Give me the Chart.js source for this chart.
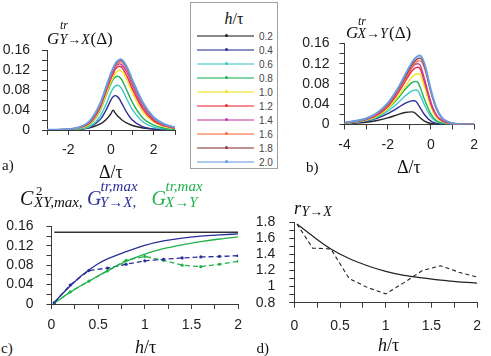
<!DOCTYPE html>
<html>
<head>
<meta charset="utf-8">
<script src="https://cdn.jsdelivr.net/npm/chart.js@4.4.0/dist/chart.umd.min.js"></script>
<style>
  body { margin: 0; background: #fff; width: 491px; height: 356px; overflow: hidden; position: relative; }
  canvas { position: absolute; }
  .lb { position: absolute; line-height: 1; white-space: nowrap; color: #111; }
  #legend { position: absolute; left: 190px; top: 2px; width: 86px; height: 165px; border: 1px solid #a0a0a0; }
</style>
</head>
<body>
<canvas id="chA" width="182" height="135" style="left:0px;top:30px"></canvas>
<canvas id="chB" width="185" height="135" style="left:300px;top:25px"></canvas>
<canvas id="chC" width="250" height="135" style="left:0px;top:205px"></canvas>
<canvas id="chD" width="241" height="140" style="left:250px;top:200px"></canvas>
<div id="legend"></div>
<script>
// h/tau levels and their colours
const hLevels = ['0.2', '0.4', '0.6', '0.8', '1.0', '1.2', '1.4', '1.6', '1.8', '2.0']
const colors = ['#262626', '#2e3192', '#3fc6c6', '#21b35a', '#f3e61c', '#ef2b3b', '#c23ea6', '#fa6b3e', '#8a3b3b', '#6b9de0']

// panel a) G^tr Y->X (delta)
const dA = [-3, -2, -1.5, -1, -0.5, -0.25, 0, 0.1, 0.2, 0.3, 0.4, 0.45, 0.5, 0.75, 1, 1.5, 2, 2.5, 3]
const gYX = [
	[0.0001, 0.0006, 0.0017, 0.0045, 0.0122, 0.020, 0.033, 0.040, 0.034, 0.0288, 0.0244, 0.0225, 0.0207, 0.0137, 0.0091, 0.004, 0.0017, 0.0008, 0.0003],
	[0, 0.0004, 0.0016, 0.0058, 0.0214, 0.0386, 0.0606, 0.0667, 0.069, 0.0671, 0.0619, 0.058, 0.0542, 0.0345, 0.0199, 0.0061, 0.0018, 0.0006, 0.0002],
	[0, 0.0005, 0.0016, 0.0068, 0.028, 0.050, 0.0756, 0.0837, 0.0886, 0.090, 0.0882, 0.086, 0.0832, 0.0612, 0.0414, 0.0162, 0.0059, 0.0022, 0.0008],
	[0.0001, 0.0009, 0.003, 0.0108, 0.040, 0.067, 0.093, 0.102, 0.1064, 0.108, 0.1062, 0.104, 0.1012, 0.0788, 0.0556, 0.0238, 0.0097, 0.0038, 0.0015],
	[0.0001, 0.0011, 0.0035, 0.0118, 0.042, 0.069, 0.097, 0.1054, 0.1134, 0.1182, 0.120, 0.1188, 0.1182, 0.100, 0.075, 0.036, 0.0162, 0.0066, 0.0029],
	[0.0002, 0.0014, 0.0045, 0.014, 0.046, 0.075, 0.1037, 0.1126, 0.1222, 0.1265, 0.128, 0.1274, 0.1263, 0.108, 0.0826, 0.0416, 0.0183, 0.0083, 0.0036],
	[0.0003, 0.0016, 0.0048, 0.0155, 0.049, 0.079, 0.108, 0.1175, 0.1273, 0.1315, 0.133, 0.1323, 0.1314, 0.116, 0.090, 0.0465, 0.0212, 0.0095, 0.0043],
	[0.0003, 0.0017, 0.0051, 0.0165, 0.051, 0.081, 0.111, 0.1205, 0.1295, 0.1345, 0.1366, 0.137, 0.1366, 0.122, 0.0959, 0.0514, 0.0233, 0.0105, 0.0049],
	[0.0003, 0.0018, 0.0053, 0.0172, 0.053, 0.083, 0.113, 0.123, 0.1315, 0.137, 0.1396, 0.140, 0.1396, 0.1246, 0.0987, 0.0532, 0.0245, 0.0112, 0.0052],
	[0.0003, 0.0019, 0.0055, 0.018, 0.054, 0.084, 0.1145, 0.1245, 0.1332, 0.1388, 0.1416, 0.142, 0.1416, 0.1264, 0.1008, 0.0547, 0.0256, 0.0118, 0.0054],
]

// panel b) G^tr X->Y (delta)
const dB = [-4, -3, -2.5, -2, -1.5, -1.2, -0.9, -0.8, -0.7, -0.6, -0.5, -0.3, 0, 0.25, 0.5, 1, 2]
const gXY = [
	[0.0015, 0.0045, 0.0078, 0.0131, 0.020, 0.0236, 0.025, 0.0244, 0.0211, 0.0172, 0.0132, 0.0068, 0.002, 0.0008, 0.0003, 0, 0],
	[0.002, 0.0067, 0.0121, 0.0214, 0.0338, 0.0418, 0.0466, 0.047, 0.0458, 0.0404, 0.0334, 0.0197, 0.0066, 0.0025, 0.001, 0.0002, 0],
	[0.002, 0.0076, 0.0143, 0.0262, 0.0435, 0.0561, 0.0658, 0.0674, 0.068, 0.0663, 0.0585, 0.0388, 0.015, 0.006, 0.0024, 0.0005, 0],
	[0.0022, 0.0085, 0.0162, 0.0306, 0.0527, 0.0689, 0.0821, 0.0842, 0.085, 0.0829, 0.0735, 0.0497, 0.0204, 0.0079, 0.0034, 0.0007, 0],
	[0.0023, 0.0087, 0.0167, 0.0315, 0.0565, 0.0745, 0.0925, 0.0966, 0.0991, 0.100, 0.0977, 0.074, 0.034, 0.0143, 0.0063, 0.0012, 0],
	[0.0026, 0.0096, 0.0186, 0.035, 0.0633, 0.0842, 0.1045, 0.1092, 0.112, 0.113, 0.1104, 0.0842, 0.0401, 0.0173, 0.0075, 0.0015, 0],
	[0.0028, 0.0102, 0.0198, 0.0372, 0.0672, 0.0894, 0.111, 0.1159, 0.1189, 0.120, 0.1174, 0.0906, 0.0444, 0.0192, 0.0084, 0.0017, 0],
	[0.0032, 0.011, 0.021, 0.039, 0.068, 0.0905, 0.1118, 0.1175, 0.122, 0.125, 0.126, 0.1115, 0.063, 0.0307, 0.013, 0.0025, 0],
	[0.0033, 0.0114, 0.0218, 0.0405, 0.0707, 0.0941, 0.1163, 0.1222, 0.1269, 0.130, 0.131, 0.1159, 0.0655, 0.032, 0.0135, 0.0026, 0],
	[0.0035, 0.0119, 0.0227, 0.0421, 0.0734, 0.0977, 0.1207, 0.1269, 0.1318, 0.135, 0.136, 0.1204, 0.068, 0.0332, 0.014, 0.0027, 0],
]

// panel c) maxima vs h/tau
const hC = [0.03, 0.1, 0.2, 0.3, 0.4, 0.5, 0.6, 0.8, 1.0, 1.2, 1.4, 1.6, 1.8, 2.0]
const gYXmax = [0.003, 0.018, 0.037, 0.055, 0.070, 0.083, 0.093, 0.108, 0.121, 0.130, 0.136, 0.140, 0.1425, 0.1445]
const gXYmax = [0.002, 0.011, 0.024, 0.036, 0.047, 0.058, 0.069, 0.088, 0.103, 0.114, 0.122, 0.1285, 0.134, 0.1385]
const hC2 = [0.03, 2.0]
const c2max = [0.148, 0.148]
const hEst = [0.03, 0.2, 0.4, 0.6, 0.8, 1.0, 1.2, 1.4, 1.6, 1.8, 2.0]
const gYXest = [0.003, 0.039, 0.069, 0.074, 0.082, 0.089, 0.092, 0.095, 0.097, 0.098, 0.0995]
const gXYest = [0.002, 0.025, 0.047, 0.068, 0.090, 0.098, 0.090, 0.080, 0.077, 0.082, 0.088]

// panel d) r Y->X
const rTheory = [1.78, 1.63, 1.47, 1.35, 1.26, 1.19, 1.14, 1.11, 1.08, 1.06, 1.045]
const rEst = [1.78, 1.48, 1.47, 1.10, 0.99, 0.91, 1.05, 1.20, 1.26, 1.18, 1.12]

const axisColor = '#3a3a3a'
const tickFont = { family: 'Liberation Sans', size: 14 }

const pts = (xs, ys) => xs.map((x, i) => ({ x: x, y: ys[i] }))

function xAxis(min, max, step, label, height, pad) {
	return {
		type: 'linear', min: min, max: max,
		border: { color: axisColor, width: 1 },
		grid: { drawOnChartArea: false, drawTicks: true, tickLength: 5, color: axisColor },
		ticks: { stepSize: step, autoSkip: false, maxRotation: 0, color: '#222', font: tickFont, padding: pad, callback: label },
		afterFit: s => { s.height = height },
	}
}

function yAxis(min, max, step, label, width, pad) {
	return {
		type: 'linear', min: min, max: max,
		border: { color: axisColor, width: 1 },
		grid: { drawOnChartArea: false, drawTicks: true, tickLength: 5, color: axisColor },
		ticks: { stepSize: step, autoSkip: false, color: '#222', font: tickFont, padding: pad, callback: label },
		afterFit: s => { s.width = width },
	}
}

const labY = v => (Math.round(v * 100) % 4 === 0 ? String(Math.round(v * 100) / 100) : '')
const labInt2 = v => (Math.round(v) % 2 === 0 ? String(Math.round(v)) : '')
const labHalf = v => (Math.round(v * 4) % 2 === 0 ? String(Math.round(v * 2) / 2) : '')
const labR = v => (Math.round(v * 10) % 2 === 0 ? String(Math.round(v * 10) / 10) : '')

function makeChart(id, datasets, xs, ys, padding) {
	return new Chart(document.getElementById(id), {
		type: 'line',
		data: { datasets: datasets },
		options: {
			responsive: false,
			animation: false,
			devicePixelRatio: 1,
			layout: { padding: padding },
			plugins: { legend: { display: false }, tooltip: { enabled: false } },
			scales: { x: xs, y: ys },
		},
	})
}

function familySets(xs, curves) {
	return curves.map((c, i) => ({
		data: pts(xs, c),
		borderColor: colors[i],
		borderWidth: i === 9 ? 2 : 1.4,
		pointRadius: 0,
		cubicInterpolationMode: 'monotone',
		order: 10 - i,
	}))
}

makeChart('chA', familySets(dA, gYX),
	xAxis(-3, 3, 1, labInt2, 35, 7),
	yAxis(0, 0.16, 0.02, labY, 47, 12),
	{ left: 0, top: 12.7, right: 4, bottom: 0 })

makeChart('chB', familySets(dB, gXY),
	xAxis(-4, 2, 1, labInt2, 35.5, 7),
	yAxis(0, 0.16, 0.02, labY, 44.5, 10),
	{ left: 0, top: 12.5, right: 9.3, bottom: 0 })

const blue = '#2b2f9c'
const green = '#22b24c'
makeChart('chC', [
	{ data: pts(hC2, c2max), borderColor: '#333', borderWidth: 1.4, pointRadius: 0 },
	{ data: pts(hC, gYXmax), borderColor: blue, borderWidth: 1.3, pointRadius: 0, cubicInterpolationMode: 'monotone' },
	{ data: pts(hC, gXYmax), borderColor: green, borderWidth: 1.3, pointRadius: 0, cubicInterpolationMode: 'monotone' },
	{ data: pts(hEst, gYXest), borderColor: blue, borderWidth: 1.3, borderDash: [5, 3], pointRadius: 1.6, pointBackgroundColor: blue, pointBorderWidth: 0 },
	{ data: pts(hEst, gXYest), borderColor: green, borderWidth: 1.3, borderDash: [5, 3], pointRadius: 1.6, pointBackgroundColor: green, pointBorderWidth: 0 },
],
	xAxis(0, 2, 0.25, labHalf, 36, 8),
	yAxis(0, 0.16, 0.02, labY, 51.5, 13),
	{ left: 0, top: 12.7, right: 7.3, bottom: 0 })

makeChart('chD', [
	{ data: pts(hEst, rTheory), borderColor: '#222', borderWidth: 1.2, pointRadius: 0, cubicInterpolationMode: 'monotone' },
	{ data: pts(hEst, rEst), borderColor: '#222', borderWidth: 1.1, borderDash: [4, 3], pointRadius: 0 },
],
	xAxis(0, 2, 0.25, labHalf, 37.3, 10),
	yAxis(0.8, 1.8, 0.1, labR, 44.3, 14),
	{ left: 0, top: 16, right: 5, bottom: 0 })

// text labels, placed by baseline
function label(html, x, base, size, style, color, family) {
	const d = document.createElement('div')
	d.className = 'lb'
	const fam = family || "'Liberation Serif'"
	const k = fam.indexOf('Sans') >= 0 ? 0.8465 : 0.8375
	d.style.left = x + 'px'
	d.style.top = (base - k * size) + 'px'
	d.style.font = (style || 'normal') + ' ' + size + 'px ' + fam
	if (color) d.style.color = color
	d.innerHTML = html
	document.body.appendChild(d)
}

// panel titles
label('G', 47, 43, 17, 'italic')
label('tr', 60, 28, 12, 'italic')
label('Y→X', 59.5, 43.5, 14, 'italic')
label('(Δ)', 90.5, 43, 17)

label('G', 346, 37, 17, 'italic')
label('tr', 358, 24.5, 12, 'italic')
label('X→Y', 357.5, 37.5, 14, 'italic')
label('(Δ)', 389, 37, 17)

label('C', 20, 203.5, 20, 'italic')
label('2', 36, 194, 13)
label('XY,max,', 34, 206.5, 15, 'italic')
label('G', 87, 203.5, 20, 'italic', blue)
label('tr,max', 100.5, 191, 15, 'italic', blue)
label('Y→X,', 100, 206.5, 15, 'italic', blue)
label('G', 151.5, 203.5, 20, 'italic', green)
label('tr,max', 165.5, 191, 15, 'italic', green)
label('X→Y', 165, 206.5, 15, 'italic', green)

label('r', 294, 213, 18, 'italic')
label('Y→X', 301.5, 215.5, 14, 'italic')

// axis titles and panel letters
label('a)', 2, 170, 15)
label('Δ/τ', 99, 177, 18)
label('b)', 306, 171.5, 15)
label('Δ/τ', 397, 172, 18)
label('c)', 1, 353, 15)
label('<i>h</i>/τ', 135, 352.5, 18)
label('d)', 256.5, 353, 15)
label('<i>h</i>/τ', 378, 350.5, 18)

// legend box
const lg = document.getElementById('legend')
const t = document.createElement('div')
t.className = 'lb'
t.style.cssText = "left:0;width:86px;text-align:center;top:7px;font:16px 'Liberation Serif'"
t.innerHTML = '<i>h</i>/τ'
lg.appendChild(t)
hLevels.forEach((h, i) => {
	const y = 32.7 + i * 14
	const ln = document.createElement('div')
	ln.style.cssText = `position:absolute;left:6px;top:${y - 1}px;width:57px;height:2px;background:${colors[i]};opacity:0.55`
	lg.appendChild(ln)
	const dot = document.createElement('div')
	dot.style.cssText = `position:absolute;left:${33.5}px;top:${y - 1.5}px;width:3px;height:3px;border-radius:50%;background:${colors[i]}`
	lg.appendChild(dot)
	const tx = document.createElement('div')
	tx.className = 'lb'
	tx.style.cssText = `left:68px;top:${y - 5}px;font:10px 'Liberation Sans';color:#444`
	tx.textContent = h
	lg.appendChild(tx)
})
</script>
</body>
</html>
